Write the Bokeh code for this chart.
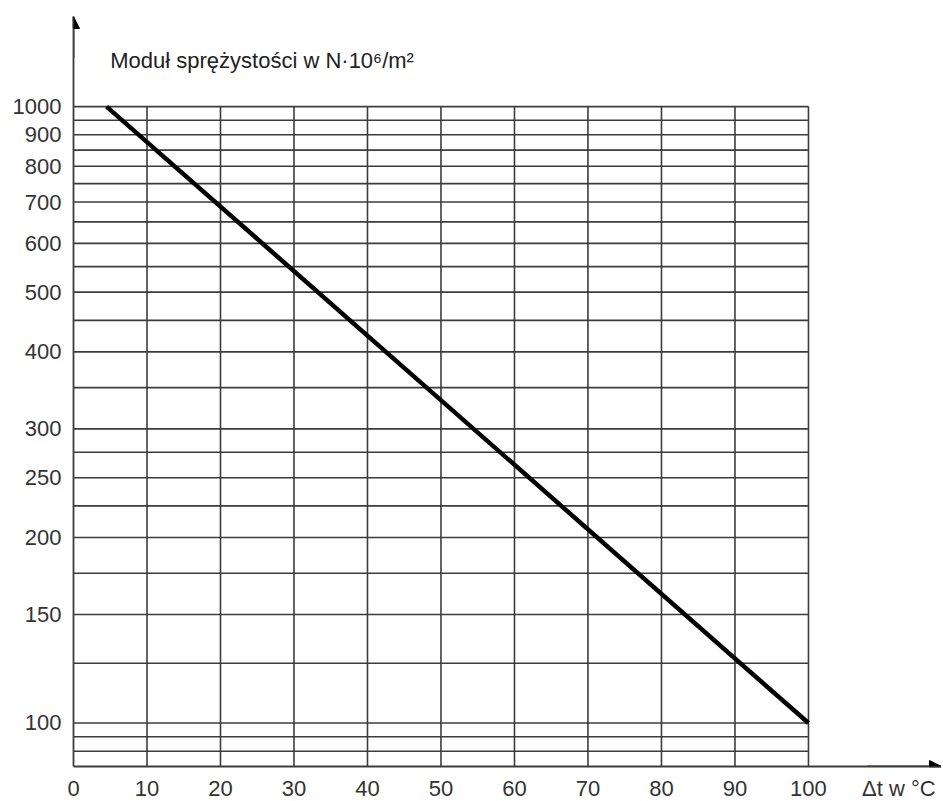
from bokeh.plotting import figure
from bokeh.models import Range1d, FixedTicker, Arrow, NormalHead, Label, CustomJSTickFormatter
from bokeh.embed import file_html
from bokeh.resources import INLINE

# --- data ---
temp_x = [4.5, 100]           # Δt in °C
modulus_y = [1000, 100]       # modulus (log scale)

x_grid = [10, 20, 30, 40, 50, 60, 70, 80, 90, 100]
y_grid = [90, 95, 100, 125, 150, 175, 200, 225, 250, 275, 300, 350, 400, 450,
          500, 550, 600, 650, 700, 750, 800, 850, 900, 950, 1000]
y_ticks = [100, 150, 200, 250, 300, 400, 500, 600, 700, 800, 900, 1000]
x_ticks = [0, 10, 20, 30, 40, 50, 60, 70, 80, 90, 100]
x_label_pos = 112.3
x_label_text = "Δt w °C"
y_title = "Moduł sprężystości w N·10⁶/m²"

X0, X1 = 0, 118.1
Y0, Y1 = 85, 1400

p = figure(width=941, height=798, frame_width=868, frame_height=750,
           x_range=Range1d(X0, X1), y_range=Range1d(Y0, Y1), y_axis_type="log",
           output_backend="svg", toolbar_location=None,
           min_border_left=73, min_border_right=0, min_border_top=16, min_border_bottom=30)
p.outline_line_color = None
p.background_fill_color = "white"
p.xgrid.visible = False
p.ygrid.visible = False

grid_color = "#3c3c3c"
# horizontal grid lines
p.segment(x0=[0] * len(y_grid), y0=y_grid, x1=[100] * len(y_grid), y1=y_grid,
          line_color=grid_color, line_width=1.6)
# vertical grid lines
p.segment(x0=x_grid, y0=[Y0] * len(x_grid), x1=x_grid, y1=[1000] * len(x_grid),
          line_color=grid_color, line_width=1.6)

# data line
p.line(temp_x, modulus_y, line_color="black", line_width=4.5)

# axes
for ax in (p.xaxis[0], p.yaxis[0]):
    ax.axis_line_color = grid_color
    ax.axis_line_width = 1.8
    ax.major_tick_line_color = None
    ax.minor_tick_line_color = None
    ax.major_label_text_font = "Liberation Sans"
    ax.major_label_text_font_size = "22px"
    ax.major_label_text_color = "#333333"

p.yaxis.ticker = FixedTicker(ticks=y_ticks)
p.yaxis.formatter = CustomJSTickFormatter(code="return tick.toFixed(0);")
p.yaxis.major_label_standoff = 6

p.xaxis.ticker = FixedTicker(ticks=x_ticks + [x_label_pos])
p.xaxis.major_label_overrides = {x_label_pos: x_label_text}
p.xaxis.formatter = CustomJSTickFormatter(code="return tick.toFixed(0);")
p.xaxis.major_label_standoff = 3

# arrow heads
p.add_layout(Arrow(end=NormalHead(size=12, fill_color="black", line_color="black"),
                   x_start=0, y_start=1200, x_end=0, y_end=Y1,
                   line_color=grid_color, line_width=1.8))
p.add_layout(Arrow(end=NormalHead(size=12, fill_color="black", line_color="black"),
                   x_start=108, y_start=Y0, x_end=X1, y_end=Y0,
                   line_color=grid_color, line_width=1.8))

p.add_layout(Label(x=5.0, y=1190, text=y_title, text_font="Liberation Sans",
                   text_font_size="22px", text_color="#222222", text_baseline="middle"))

open("out.html", "w").write(file_html(p, INLINE))
